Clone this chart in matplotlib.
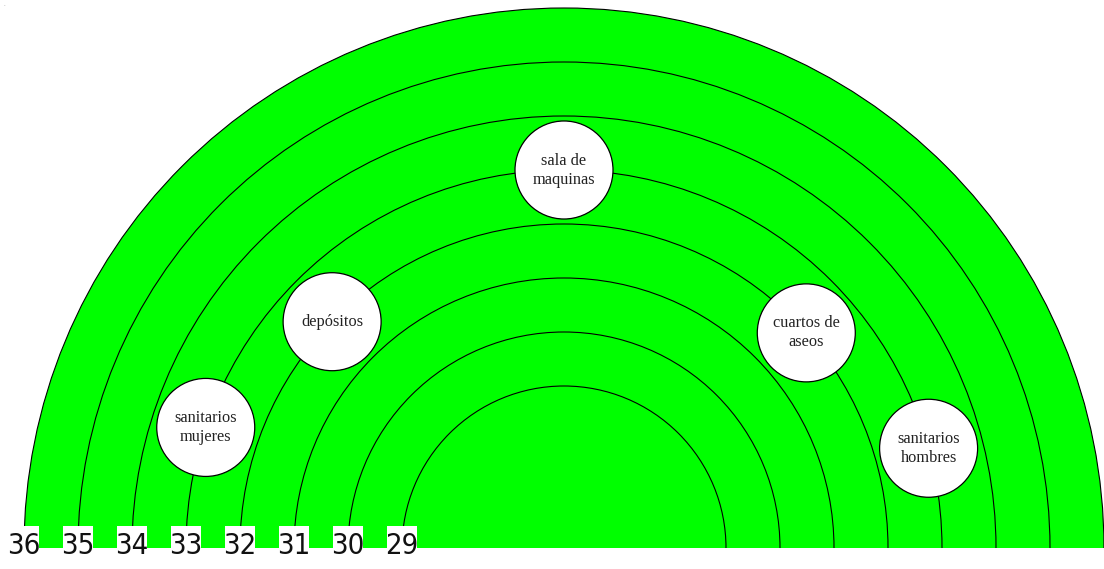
import numpy as np
import matplotlib
matplotlib.use('Agg')
import matplotlib.pyplot as plt
from matplotlib.patches import Wedge, Arc, Circle, Rectangle

# niveles de los arcos (de fuera hacia dentro)
levels = [36, 35, 34, 33, 32, 31, 30, 29]

# nodos: nombre, nivel del arco, angulo (grados)
node_names = ['sanitarios\nmujeres', 'depósitos', 'sala de\nmaquinas',
              'cuartos de\naseos', 'sanitarios\nhombres']
node_levels = [33, 32, 33, 32, 33]
node_angles = [161.4, 135.7, 90.0, 41.6, 15.3]

W, H = 1104, 569
cx, cy = 564, H - 548   # centro del semicirculo
unit = 54.0             # pixeles por nivel
base = 26               # nivel con radio cero
node_r = 49

def radius(level):
    return unit * (level - base)

fig = plt.figure(figsize=(W / 100, H / 100), dpi=100)
ax = fig.add_axes([0, 0, 1, 1])
ax.set_xlim(0, W)
ax.set_ylim(0, H)
ax.set_aspect('equal')
ax.axis('off')

# fondo verde
ax.add_patch(Wedge((cx, cy), radius(max(levels)), 0, 180,
                   facecolor='#00ff00', edgecolor='none', zorder=1))

# arcos y etiquetas
for lv in levels:
    r = radius(lv)
    ax.add_patch(Arc((cx, cy), 2 * r, 2 * r, theta1=0, theta2=180,
                     color='black', lw=0.8, zorder=2))
    ax.add_patch(Rectangle((cx - r - 15, 0), 30, H - 526,
                           facecolor='white', edgecolor='none', zorder=4))
    ax.text(cx - r, H - 546, str(lv), ha='center', va='center',
            fontsize=21, family='DejaVu Sans', fontstretch='condensed',
            color='#111111', zorder=5)

# nodos
for name, lv, ang in zip(node_names, node_levels, node_angles):
    r = radius(lv)
    x = cx + r * np.cos(np.radians(ang))
    y = cy + r * np.sin(np.radians(ang))
    ax.add_patch(Circle((x, y), node_r, facecolor='white', edgecolor='black',
                        lw=0.9, zorder=3))
    ax.text(x, y, name, ha='center', va='center', fontsize=11.8,
            family='Liberation Serif', color='#222222', linespacing=1.25,
            zorder=4)

ax.text(4, H - 4, '.', fontsize=4, color='gray', ha='center', va='center')

fig.savefig('out.png', dpi=100)
